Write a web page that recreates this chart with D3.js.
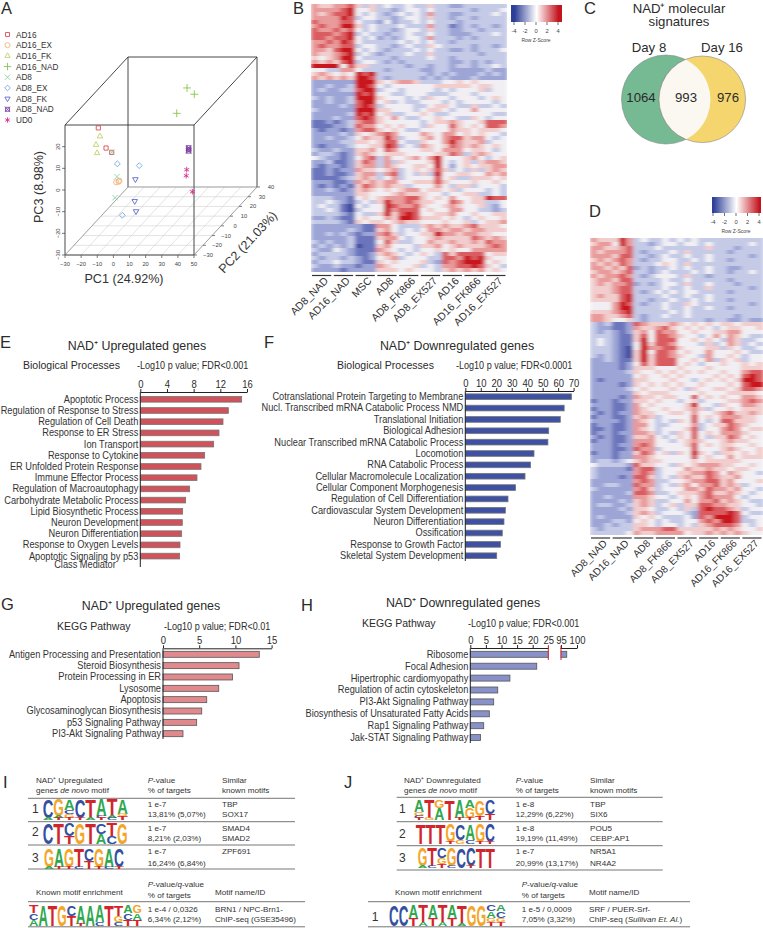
<!DOCTYPE html>
<html><head><meta charset="utf-8">
<script src="https://cdn.jsdelivr.net/npm/d3@7"></script>
<style>
html,body{margin:0;padding:0;background:#fff}
svg{display:block}
text{font-family:"Liberation Sans",Arial,sans-serif;fill:#2b2b2b}
</style></head><body>
<svg id="fig" width="763" height="928" viewBox="0 0 763 928"></svg>
<script>
// ---------- DATA ----------
const pcaGroups = ["AD16","AD16_EX","AD16_FK","AD16_NAD","AD8","AD8_EX","AD8_FK","AD8_NAD","UD0"];
const pcaColors = ["#d8454a","#f0b272","#b9d063","#7fc242","#86d0a4","#6ea4e2","#5b5fc0","#7d3fa3","#d9258c"];
// [group index, PC1, PC2, PC3]
const pcaPoints = [
 [0,-20.5,-10,19.7],[0,-15.7,-10,10.4],[0,-12.2,-10,8.4],
 [1,-9.35,-10,-5.4],[1,-7.5,-10,-4.7],[1,-7.9,-10,-5.1],
 [2,-19.5,-10,15.8],[2,-21.9,-10,11.9],[2,-21.3,-10,8.1],
 [3,12.2,30,20.2],[3,16.7,30,17.3],[3,5.8,30,8.5],
 [4,-14.5,0,-7.3],[4,-15.7,0,-17],[4,-17.8,0,4],
 [5,-14.3,0,-1.4],[5,-0.7,0,-2.2],[5,-11.2,0,-25.1],
 [6,-3.1,0,-8.5],[6,-3.5,0,-18.6],[6,-2.7,0,-23.3],
 [7,41.1,-20,15],[7,41.1,-20,14.2],[7,41.1,-20,13.5],
 [8,39.9,-20,4.9],[8,39.6,-20,2.1],[8,43.4,-20,-5.3]];
const pc1Ticks = [-30,-20,-10,0,10,20,30,40,50];
const pc2Ticks = [-30,-20,-10,0,10,20,30,40];
const pc3Ticks = [-30,-20,-10,0,10,20];

const heatBGroups = ["AD8_NAD","AD16_NAD","MSC","AD8","AD8_FK866","AD8_EX527","AD16","AD16_FK866","AD16_EX527"];
// digits 0..8 stand for z-scores -4..+4, three replicates per group
const heatB = [
"655 667 535 343 343 353 322 333 333","666 678 445 332 344 343 333 323 334","656 778 434 323 434 363 322 333 343",
"666 687 344 332 344 353 323 323 333","766 677 433 242 334 343 332 333 333","676 688 534 333 433 363 312 323 323",
"766 767 434 332 344 353 322 332 333","777 678 343 323 343 343 322 233 343","776 778 434 232 344 363 332 323 333",
"667 687 433 333 434 343 323 333 333","676 677 344 332 343 354 333 323 323","665 788 434 323 334 343 322 323 334",
"655 678 343 233 343 353 333 332 333","545 688 433 332 333 343 323 333 333","656 578 344 323 233 333 322 323 233",
"888 847 553 333 323 323 323 323 343","443 366 433 323 333 223 322 222 322",
"565 454 878 333 333 323 232 223 232","656 565 887 323 333 232 322 232 222",
"222 222 888 545 665 333 445 454 444","223 223 887 434 444 445 555 545 544","232 233 788 344 344 443 434 445 344",
"222 222 878 443 344 433 344 434 444","323 223 888 544 434 354 434 443 454","223 223 788 453 433 444 343 444 434",
"222 232 787 344 443 345 543 353 343","322 222 888 554 443 455 434 464 444","222 223 878 453 344 543 344 444 433",
"222 322 787 546 433 445 443 354 344",
"112 123 677 544 444 345 565 445 777","111 223 766 454 544 354 475 454 776","212 212 677 545 433 444 465 545 554",
"222 232 545 676 444 654 664 545 443","223 223 465 586 344 564 677 566 434","222 233 554 577 433 544 686 556 344",
"212 223 445 587 343 654 576 565 454","322 322 556 476 444 554 666 455 434","233 212 565 455 544 445 576 356 544",
"432 212 467 364 456 468 444 564 345",
"223 112 576 363 544 458 434 535 665","212 212 566 365 445 548 424 545 566","112 122 655 456 345 457 534 353 565",
"112 112 566 367 343 538 445 544 656","111 123 565 346 344 447 453 355 545","222 112 656 566 445 557 544 454 454",
"212 121 576 565 534 446 435 534 443","223 212 565 454 566 455 453 444 343","222 222 554 445 655 544 344 553 343",
"333 221 454 566 677 545 464 455 877","334 321 343 586 676 554 476 455 334","343 310 434 487 667 544 565 445 324",
"334 310 344 486 777 454 466 443 323","333 321 433 585 787 445 564 454 455","223 211 454 465 887 555 454 345 445",
"333 321 545 545 655 444 544 534 556",
"222 222 211 664 333 565 655 675 554","222 223 211 564 343 466 566 566 555","223 232 122 675 344 558 665 665 544",
"222 223 111 566 434 456 555 576 565","323 223 111 475 334 465 565 565 766","232 323 011 564 443 556 456 555 676",
"322 432 111 654 343 445 454 466 666",
"233 332 112 565 434 543 757 777 455","323 323 212 456 344 433 776 878 544","233 433 211 545 444 532 767 888 454",
"322 322 122 654 445 343 667 787 543","222 212 222 555 454 443 565 656 454"];

const heatDGroups = ["AD8_NAD","AD16_NAD","AD8","AD8_FK866","AD8_EX527","AD16","AD16_FK866","AD16_EX527"];
const heatD = [
"655 586 343 343 434 333 333 333","566 486 332 344 344 343 333 343","665 567 333 433 333 353 332 333",
"656 667 323 334 353 333 323 333","666 577 332 343 343 343 333 323","565 676 323 344 334 343 323 333",
"656 576 333 454 353 333 333 333","665 657 232 334 343 343 322 333","566 567 332 343 334 343 323 343",
"656 676 323 444 353 323 333 333","566 577 333 343 343 333 323 333","565 667 232 344 353 343 332 333",
"555 677 333 343 343 353 333 323","555 677 323 434 344 333 323 333","565 578 333 343 343 343 333 333",
"555 578 332 334 334 343 323 333","444 687 323 343 354 333 333 323","444 688 333 343 343 343 323 333",
"555 678 333 334 343 333 333 333","665 567 323 343 343 333 332 333","665 445 323 333 333 323 322 322",
"323 112 765 556 545 454 554 555","322 112 655 675 454 543 455 445","323 212 564 766 445 445 566 444",
"333 211 574 776 544 346 465 433","343 211 584 777 445 454 365 334","343 211 485 776 444 353 465 343",
"333 210 486 677 544 455 354 334","333 210 584 776 454 464 445 433","323 210 585 776 544 364 454 344",
"223 211 585 777 445 463 545 344","222 212 475 777 454 344 544 545","222 212 555 444 544 454 444 555",
"222 223 544 545 454 544 544 677","222 222 454 454 544 445 454 787","212 222 554 445 443 454 545 887",
"222 212 545 454 544 544 454 788","222 223 454 445 435 445 545 776","222 222 545 554 444 544 455 554",
"222 212 655 455 447 454 544 665","122 122 554 544 345 344 455 676","222 112 645 444 458 443 544 665",
"122 112 654 454 456 534 454 555","212 122 655 445 546 445 675 565","122 112 565 344 447 454 666 554",
"222 212 654 343 547 434 775 554","122 112 664 334 446 345 576 544","112 112 654 344 457 344 676 455",
"122 122 665 343 547 454 666 544","212 112 556 434 547 435 576 454","122 112 666 443 456 544 565 544",
"222 122 676 444 457 454 554 454","222 112 766 344 447 444 565 445","122 122 576 453 548 543 554 545",
"222 122 665 444 447 454 464 555","233 234 565 544 445 455 555 444",
"433 332 755 443 545 666 554 454","322 221 677 344 465 565 545 544","322 222 676 344 556 676 465 443",
"322 212 775 343 565 576 556 444","222 222 676 334 456 677 564 445","223 322 766 343 564 667 565 344",
"322 222 675 344 466 576 656 443","222 223 776 334 555 675 565 434","223 222 665 443 454 676 664 344",
"222 232 565 334 464 667 565 433","233 223 565 345 355 776 655 443",
"222 232 554 334 353 787 765 344","222 223 565 344 432 777 787 433","232 222 545 433 342 768 887 344",
"222 332 454 343 344 676 887 334","223 233 554 344 343 567 776 434",
"323 333 566 677 555 556 565 445","333 334 655 666 645 565 656 544"];

const vennSets = ["Day 8","Day 16"];
const vennValues = [1064,993,976];

const eLabels = ["Apoptotic Process","Regulation of Response to Stress","Regulation of Cell Death","Response to ER Stress","Ion Transport","Response to Cytokine","ER Unfolded Protein Response","Immune Effector Process","Regulation of Macroautophagy","Carbohydrate Metabolic Process","Lipid Biosynthetic Process","Neuron Development","Neuron Differentiation","Response to Oxygen Levels","Apoptotic Signaling by p53"];
const eValues = [15.2,13.2,12.4,11.8,11,9.65,9.1,8.5,7.4,6.8,6.35,6.3,6.2,5.95,5.9];
const eTicks = [0,4,8,12,16];

const fLabels = ["Cotranslational Protein Targeting to Membrane","Nucl. Transcribed mRNA Catabolic Process NMD","Translational Initiation","Biological Adhesion","Nuclear Transcribed mRNA Catabolic Process","Locomotion","RNA Catabolic Process","Cellular Macromolecule Localization","Cellular Component Morphogenesis","Regulation of Cell Differentiation","Cardiovascular System Development","Neuron Differentiation","Ossification","Response to Growth Factor","Skeletal System Development"];
const fValues = [68.6,63.9,61.4,53.9,53.4,44.4,42.2,38.6,32.5,27.6,25.9,25,23.9,22.8,20.3];
const fTicks = [0,10,20,30,40,50,60,70];

const gLabels = ["Antigen Processing and Presentation","Steroid Biosynthesis","Protein Processing in ER","Lysosome","Apoptosis","Glycosaminoglycan Biosynthesis","p53 Signaling Pathway","PI3-Akt Signaling Pathway"];
const gValues = [13.3,10.5,9.6,7.7,6.04,5.35,4.65,2.76];
const gTicks = [0,5,10,15];

const hLabels = ["Ribosome","Focal Adhesion","Hipertrophic cardiomyopathy","Regulation of actin cytoskeleton","PI3-Akt Signaling Pathway","Biosynthesis of Unsaturated Fatty Acids","Rap1 Signaling Pathway","Jak-STAT Signaling Pathway"];
const hValues = [96.8,21.3,12.7,8.8,7.5,6.1,4.3,3.3];
const hTicks = [0,5,10,15,20,25,95,100];

// motif logos: each position lists letter + weight, top of the stack first
const logoI1 = ["C9A1","G8A1T1","A5C2G2T1","C9T1","T9A1","A8C1T1","T8A1C1","A7G1T2"];
const logoI2 = ["C10","T10","C6T4","G10","T10","C5A5","T6C4","G10"];
const logoI3 = ["G9A1","A9T1","G9T1","T9C1","C6T4","G9T1","A9C1","C9T1"];
const logoIK = ["T4C3A3","A10","T10","G10","C5T5","A9T1","A10","A8C2","T10","T5G3C2","A4C3T3","G4A3T3"];
const logoJ1 = ["A6G2C1T1","T9G1","G4A6","T10","A9T1","A4G5T1","G8T2","C7T3"];
const logoJ2 = ["T10","T10","T10","G9T1","C8G2","A8C2","G9T1","C9T1"];
const logoJ3 = ["G9A1","T9C1","C5G3T2","G9C1","C10","C9T1","T10","T10"];
const logoJK = ["C10","C10","A6T4","T8A2","A6T4","T8A2","A6T4","T9A1","G10","G10","C3A3G2T2","A3C3G2T2"];

// ---------- HELPERS ----------
const svg = d3.select("#fig");
const defs = svg.append("defs");
defs.append("filter").attr("id","soft").attr("x","-5%").attr("y","-5%").attr("width","110%").attr("height","110%")
  .append("feGaussianBlur").attr("stdDeviation","2.2 0.5");
function txt(x,y,s,o={}){
  const e = svg.append("text").attr("x",x).attr("y",y).text(s)
    .attr("font-size",o.size||10).attr("text-anchor",o.anchor||"start");
  if(o.fill) e.style("fill",o.fill);
  if(o.rot!==undefined) e.attr("transform",`rotate(${o.rot} ${x} ${y})`);
  if(o.narrow) narrow(e,o.narrow);
  return e;
}
function narrow(e,f){
  e.each(function(){const l=this.getComputedTextLength();
    d3.select(this).attr("textLength",l*f).attr("lengthAdjust","spacingAndGlyphs");});
}
function line(x1,y1,x2,y2,c,w){
  return svg.append("line").attr("x1",x1).attr("y1",y1).attr("x2",x2).attr("y2",y2).attr("stroke",c||"#222").attr("stroke-width",w||1);
}
// panel letters
[["A",1,14],["B",293,14],["C",584,14],["D",589,217],["E",0,348],["F",264,348],["G",1,610],["H",301,611],["I",3,788],["J",344,788]]
 .forEach(d=>txt(d[1],d[2],d[0],{size:16.5}));

// ---------- PANEL A ----------
const px = d3.scaleLinear().domain([-30,50]).range([65,194]);
const pz = d3.scaleLinear().domain([-30,30]).range([255,125]);
const skewX = d3.scaleLinear().domain([-30,40]).range([0,63]);
const skewY = d3.scaleLinear().domain([-30,40]).range([0,-68]);
const prj = (a,b,c)=>[px(a)+skewX(b),pz(c)+skewY(b)];
pc1Ticks.forEach(v=>{const p=prj(v,-30,-30),q=prj(v,40,-30);
  line(p[0],p[1],q[0],q[1],"#d0d0d0",.6);
  line(p[0],p[1],p[0],p[1]+3,"#444",.7);
  txt(p[0],p[1]+11,v<0?"\u2212"+(-v):v,{size:5.8,anchor:"middle",fill:"#444"});});
pc2Ticks.forEach(v=>{const p=prj(-30,v,-30),q=prj(50,v,-30);
  line(p[0],p[1],q[0],q[1],"#d0d0d0",.6);
  line(q[0],q[1],q[0]+3,q[1],"#444",.7);
  txt(q[0]+14,q[1]+2,v<0?"\u2212"+(-v):v,{size:5.8,anchor:"middle",fill:"#444"});});
pc3Ticks.forEach(v=>{const p=prj(-30,-30,v);
  line(p[0]-3,p[1],p[0],p[1],"#444",.7);
  txt(p[0]-5,p[1],v<0?"\u2212"+(-v):v,{size:5.8,anchor:"middle",fill:"#444",rot:-90});});
[[[-30,-30,-30],[50,-30,-30]],[[-30,-30,30],[50,-30,30]],[[-30,-30,-30],[-30,-30,30]],[[50,-30,-30],[50,-30,30]],
 [[-30,-30,30],[-30,40,30]],[[50,-30,30],[50,40,30]],[[-30,40,30],[50,40,30]],[[50,40,30],[50,40,-30]],[[-30,40,30],[-30,40,-30]],
 [[-30,-30,-30],[-30,40,-30]],[[50,-30,-30],[50,40,-30]],[[-30,40,-30],[50,40,-30]]]
 .forEach((s,k)=>{const a=prj(...s[0]),b=prj(...s[1]);line(a[0],a[1],b[0],b[1],k>8?"#777":"#333",k>8?.6:.9);});
function marker(g,k,x,y,sz){
  const gen=d=>d3.symbol().type(d).size(sz)();
  const c=pcaColors[k], tr=`translate(${x},${y})`;
  const add=(t,extra)=>g.append("path").attr("d",gen(t)).attr("transform",tr+(extra||"")).attr("fill","none").attr("stroke",c).attr("stroke-width",.85);
  const map=[d3.symbolSquare2,d3.symbolCircle,d3.symbolTriangle2,d3.symbolPlus,d3.symbolTimes,d3.symbolDiamond2,d3.symbolTriangle2,d3.symbolSquare2,d3.symbolAsterisk];
  add(map[k],k===6?" rotate(180)":"");
  if(k===7) add(d3.symbolTimes);
}
const gA=svg.append("g");
pcaPoints.forEach(d=>{const p=prj(d[1],d[2],d[3]);marker(gA,d[0],p[0],p[1],22);});
pcaGroups.forEach((n,k)=>{const y=d3.scaleLinear().domain([0,8]).range([34.5,120])(k);
  marker(gA,k,7.5,y,20);
  txt(16,y+3,n,{size:8.2,fill:"#333"});});
txt(124,283,"PC1 (24.92%)",{size:12.6,anchor:"middle",fill:"#333"});
txt(43,187,"PC3 (8.98%)",{size:12.6,anchor:"middle",fill:"#333",rot:-90});
txt(251,245,"PC2 (21.03%)",{size:12.6,anchor:"middle",fill:"#333",rot:-47});

// ---------- HEATMAPS ----------
const zColor = d3.scaleLinear().domain([-4,-3,-2,-1,0,1,2,3,4])
  .range(["#3d4c9e","#6a75bb","#9da5d6","#c5cae7","#f1eff3","#f2cdcd","#e99a9a","#da5c60","#c9141d"]);
function heatmap(id,rows,groups,x0,x1,y0,y1,gap,labelOff,lblSize){
  const m = rows.map(r=>r.replace(/ /g,"").split("").map(c=>+c-4));
  const nc = groups.length*3;
  const xs = d3.scaleBand().domain(d3.range(nc)).range([x0,x1]);
  const ys = d3.scaleBand().domain(d3.range(m.length)).range([y0,y1]);
  defs.append("clipPath").attr("id",id).append("rect").attr("x",x0).attr("y",y0).attr("width",x1-x0).attr("height",y1-y0);
  const g = svg.append("g").attr("clip-path",`url(#${id})`).append("g").attr("filter","url(#soft)").attr("shape-rendering","crispEdges");
  m.forEach((r,ri)=>g.selectAll(null).data(r).join("rect")
    .attr("x",(d,ci)=>xs(ci)).attr("y",ys(ri)).attr("width",xs.bandwidth()+.5).attr("height",ys.bandwidth()+.5)
    .attr("fill",d=>zColor(d)));
  const gs = d3.scaleBand().domain(groups).range([x0,x1]);
  groups.forEach(n=>{
    line(gs(n)+1,y1+gap,gs(n)+gs.bandwidth()-1.5,y1+gap,"#333",1.2);
    txt(gs(n)+gs.bandwidth()/2+labelOff,y1+gap+6,n,{size:lblSize,anchor:"end",rot:-45,fill:"#333"});
  });
}
heatmap("cb",heatB,heatBGroups,311,507,3.5,272,3.5,7,10.5);
heatmap("cd",heatD,heatDGroups,590,763,238,535,3,7,10.2);
function colorbar(x0,x1,y0,y1,tx0,tx1,sz){
  const s=d3.scaleLinear().domain([-4,4]).range([tx0,tx1]);
  const g=svg.append("g").attr("shape-rendering","crispEdges");
  const cb=d3.scaleLinear().domain([-4,0,4]).range(["#2e3f97","#ffffff","#c4141d"]).clamp(true);
  g.selectAll(null).data(d3.range(x0,x1)).join("rect").attr("x",d=>d).attr("y",y0).attr("width",1.2).attr("height",y1-y0)
    .attr("fill",d=>cb(s.invert(d)));
  [-4,-2,0,2,4].forEach(v=>{line(s(v),y1,s(v),y1+3,"#333",.7);
    txt(s(v),y1+11,v<0?"-"+(-v):v,{size:sz,anchor:"middle",fill:"#444"});});
  txt((tx0+tx1)/2,y1+20,"Row Z-Score",{size:sz-.8,anchor:"middle",fill:"#444"});
}
colorbar(511,562,5,22,514,558,5.8);
colorbar(712,761,197,213,713,759,5.8);

// ---------- PANEL C ----------
const vx = d3.scaleLinear().domain([0,1]).range([666,702.3]);
defs.append("clipPath").attr("id","cl").append("circle").attr("cx",vx(0)).attr("cy",99.5).attr("r",44.5);
svg.append("circle").attr("cx",vx(0)).attr("cy",99.5).attr("r",44.5).attr("fill","#75ba93").attr("stroke","#888").attr("stroke-width",.6);
svg.append("circle").attr("cx",vx(1)).attr("cy",99.3).attr("r",43.3).attr("fill","#f5d56d").attr("stroke","#888").attr("stroke-width",.6);
svg.append("circle").attr("cx",vx(1)).attr("cy",99.3).attr("r",43.3).attr("fill","#fbf8f1").attr("stroke","#888").attr("stroke-width",.6).attr("clip-path","url(#cl)");
txt(679,13,"NAD\u207A molecular",{size:13.2,anchor:"middle"});
txt(679,26,"signatures",{size:13.2,anchor:"middle"});
txt(649,52,vennSets[0],{size:13.2,anchor:"middle"});
txt(722,52,vennSets[1],{size:13.2,anchor:"middle"});
[641,686,728].forEach((x,k)=>txt(x,101.5,vennValues[k],{size:13.2,anchor:"middle"}));

// ---------- BAR PANELS ----------
function bars(o){
  const x=o.scale, top=o.axisY;
  const ys=d3.scaleBand().domain(o.labels).range([o.first-o.step/2,o.first+o.step*(o.labels.length-.5)]);
  const g=svg.append("g");
  o.labels.forEach((l,k)=>{
    g.append("rect").attr("x",x(0)).attr("y",ys(l)+(o.step-o.h)/2).attr("width",x(o.values[k])-x(0)).attr("height",o.h)
     .attr("fill",o.fill).attr("stroke",o.stroke).attr("stroke-width",.8);
    txt(x(0)-2,ys(l)+o.step/2+3.4,l,{size:o.size,anchor:"end",narrow:o.nar,fill:"#333"});
  });
  const ax=svg.append("g").attr("transform",`translate(0,${top})`)
    .call(d3.axisTop(x).tickValues(o.ticks).tickSize(3).tickSizeOuter(0).tickPadding(1).tickFormat(d3.format("d")));
  ax.selectAll("text").attr("font-size",o.size).attr("font-family",null).each(function(){narrow(d3.select(this),.9);});
  ax.select(".domain").attr("stroke","#222");
  ax.selectAll(".tick line").attr("stroke","#222");
  line(x(0),top,x(0),o.bottom,"#222",1);
}
txt(137,350,"NAD\u207A Upregulated genes",{size:12.4,anchor:"middle"});
txt(23,369,"Biological Processes",{size:10.5});
txt(137,369,"-Log10 p value; FDR<0.001",{size:10.4,narrow:.87});
bars({labels:eLabels,values:eValues,ticks:eTicks,scale:d3.scaleLinear().domain([0,16]).range([140.3,247]),axisY:392,bottom:567,first:399.3,step:11.2,h:5.7,fill:"#d0525a",stroke:"#777",size:10.5,nar:.88});
txt(85,568,"Class Mediator",{size:10.5,anchor:"middle",narrow:.88,fill:"#333"});

txt(457,350,"NAD\u207A Downregulated genes",{size:12.4,anchor:"middle"});
txt(337,369,"Biological Processes",{size:10.5});
txt(456,369,"-Log10 p value; FDR<0.0001",{size:10.4,narrow:.87});
bars({labels:fLabels,values:fValues,ticks:fTicks,scale:d3.scaleLinear().domain([0,70]).range([465.3,573.6]),axisY:391,bottom:561,first:396.7,step:11.36,h:5.7,fill:"#3f51a3",stroke:"#777",size:10.5,nar:.88});

txt(151,610,"NAD\u207A Upregulated genes",{size:12.4,anchor:"middle"});
txt(57,630,"KEGG Pathway",{size:10.5});
txt(164,630,"-Log10 p value; FDR<0.01",{size:10.4,narrow:.87});
bars({labels:gLabels,values:gValues,ticks:gTicks,scale:d3.scaleLinear().domain([0,15]).range([163,271.6]),axisY:648.3,bottom:739,first:654.3,step:11.34,h:6,fill:"#e08a8e",stroke:"#555",size:10.5,nar:.88});

txt(463,607,"NAD\u207A Downregulated genes",{size:12.4,anchor:"middle"});
txt(362,627,"KEGG Pathway",{size:10.5});
txt(468,627,"-Log10 p value; FDR<0.001",{size:10.4,narrow:.87});
const hScale=d3.scaleLinear().domain([0,25,95,100]).range([470.3,548.3,561,577]);
bars({labels:hLabels,values:hValues,ticks:hTicks,scale:hScale,axisY:648,bottom:743,first:654.3,step:11.9,h:6,fill:"#8891c8",stroke:"#555",size:10.5,nar:.88});
svg.append("rect").attr("x",hScale(25)+.5).attr("y",644).attr("width",hScale(95)-hScale(25)-1).attr("height",17).attr("fill","#fff");
line(hScale(25),645.7,hScale(25),660,"#d8232a",1);
line(hScale(95),645.7,hScale(95),660,"#d8232a",1);

// ---------- MOTIFS ----------
const baseColor={A:"#2fa84f",C:"#34509f",G:"#f4a62a",T:"#d2252b"};
const capH=.716;
function logo(spec,x0,x1,y0,y1){
  const xs=d3.scaleBand().domain(d3.range(spec.length)).range([x0,x1]);
  const g=svg.append("g");
  spec.forEach((s,k)=>{
    const parts=[...s.matchAll(/([ACGT])(\d+)/g)].map(m=>[m[1],+m[2]]);
    let y=y0;
    const hs=d3.scaleLinear().domain([0,10]).range([0,y1-y0]);
    parts.forEach(p=>{
      const h=hs(p[1]);
      const e=g.append("text").text(p[0]).attr("font-size",10).attr("font-weight","bold").style("fill",baseColor[p[0]]);
      const w=e.node().getComputedTextLength();
      e.attr("transform",`translate(${xs(k)},${y+h}) scale(${xs.bandwidth()/w},${h/(10*capH)})`);
      y+=h;
    });
  });
}
const sm={size:8.1,fill:"#333"};
function rich(x,y,parts){
  const e=svg.append("text").attr("x",x).attr("y",y).attr("font-size",8.1).style("fill","#333");
  parts.forEach(p=>e.append("tspan").text(p[0]).attr("font-style",p[1]?"italic":null));
}
function motifPanel(o){
  txt(o.hx,783,"NAD\u207A "+o.dir,sm);
  rich(o.hx,793,[["genes "],["de novo",1],[" motif"]]);
  rich(o.px,783,[["P",1],["-value"]]);
  txt(o.px,793,"% of targets",sm);
  txt(o.sx,783,"Similar",sm);
  txt(o.sx,793,"known motifs",sm);
  o.lines.forEach(y=>line(o.l0,y,o.l1,y,"#666",.9));
  o.rows.forEach((r,k)=>{
    txt(o.nx,o.ny[k],k+1,{size:12,fill:"#333"});
    logo(r.logo,r.x0,r.x1,r.y0,r.y1);
    txt(o.px,o.ty[k][0],r.p,sm); txt(o.px,o.ty[k][1],r.pct,sm);
    txt(o.sx,o.ty[k][0],r.a,sm); if(r.b) txt(o.sx,o.ty[k][1],r.b,sm);
  });
  txt(o.kx,895,"Known motif enrichment",sm);
  rich(o.kpx,887,[["P",1],["-value/"],["q",1],["-value"]]);
  txt(o.kpx,898,"% of targets",sm);
  txt(o.ksx,895,"Motif name/ID",sm);
  line(o.k0,901.7,o.k1,901.7,"#666",.9);
  line(o.k0,926.8,o.k1,926.8,"#666",.9);
  if(o.knum) txt(o.knum,921,"1",{size:12,fill:"#333"});
  logo(o.klogo,o.klx0,o.klx1,905,926);
  txt(o.kpx,911.7,o.kp,sm); txt(o.kpx,922,o.kpct,sm);
  txt(o.ksx,911.7,o.kn1,sm);
  rich(o.ksx,922,o.kn2);
}
motifPanel({dir:"Upregulated",hx:36,px:147.7,sx:222,l0:28,l1:295,nx:32,
 lines:[798.3,821.7,845,869],ny:[813,836,862],ty:[[806.7,817.3],[831,841],[854,865.7]],
 rows:[{logo:logoI1,x0:42.7,x1:128,y0:799,y1:820,p:"1 e-7",pct:"13,81% (5,07%)",a:"TBP",b:"SOX17"},
       {logo:logoI2,x0:42.7,x1:127.7,y0:823,y1:844,p:"1 e-7",pct:"8,21% (2,03%)",a:"SMAD4",b:"SMAD2"},
       {logo:logoI3,x0:44,x1:124,y0:849,y1:869,p:"1 e-7",pct:"16,24% (6,84%)",a:"ZPF691"}],
 kx:36,kpx:147.7,ksx:215,k0:28,k1:305,klogo:logoIK,klx0:29,klx1:142,
 kp:"1 e-4 / 0,0326",kpct:"6,34% (2,12%)",kn1:"BRN1 / NPC-Brn1-",kn2:[["ChIP-seq (GSE35496)"]]});
motifPanel({dir:"Downregulated",hx:404,px:515.7,sx:590,l0:396.7,l1:662.7,nx:399,
 lines:[797.3,821.7,845.7,870],ny:[813,838,862],ty:[[806.7,817.3],[831,841],[854,865.7]],
 rows:[{logo:logoJ1,x0:414,x1:495,y0:800,y1:820,p:"1 e-8",pct:"12,29% (6,22%)",a:"TBP",b:"SIX6"},
       {logo:logoJ2,x0:415.7,x1:495,y0:824,y1:844,p:"1 e-8",pct:"19,19% (11,49%)",a:"POU5",b:"CEBP:AP1"},
       {logo:logoJ3,x0:417.7,x1:495,y0:848,y1:868,p:"1 e-7",pct:"20,99% (13,17%)",a:"NR5A1",b:"NR4A2"}],
 kx:395,kpx:521.7,ksx:589,k0:368,k1:690,knum:371.7,klogo:logoJK,klx0:389,klx1:505.7,
 kp:"1 e-5 / 0,0009",kpct:"7,05% (3,32%)",kn1:"SRF / PUER-Srf-",kn2:[["ChIP-seq ("],["Sullivan Et. Al.",1],[")"]]});
</script>
</body></html>
